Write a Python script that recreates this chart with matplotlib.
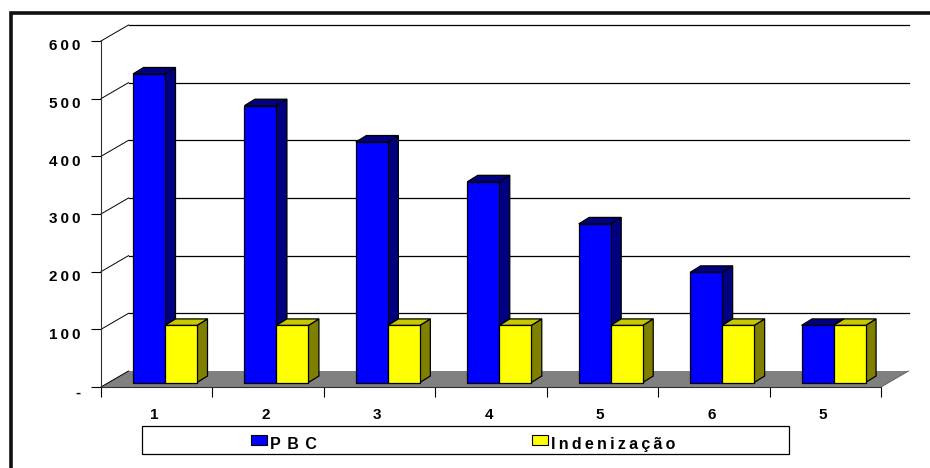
import matplotlib
matplotlib.use("Agg")
import matplotlib.pyplot as plt
from matplotlib.patches import Rectangle, Patch
from matplotlib.lines import Line2D
from matplotlib.transforms import ScaledTranslation

categories = ["1", "2", "3", "4", "5", "6", "5"]
pbc = [535, 480, 417, 348, 275, 191, 99]
indenizacao = [99, 99, 99, 99, 99, 99, 99]
y_ticks = [0, 100, 200, 300, 400, 500, 600]
y_labels = ["-", "100", "200", "300", "400", "500", "600"]
series_names = ["PBC", "Indenização"]

W, H = 930, 468
L, R, T, B = 101, 881, 41, 387
THIN = "\u2009"

def spaced(s, sep=THIN):
    return sep.join(s)

plt.rcParams["font.family"] = ["Liberation Sans", "DejaVu Sans"]
plt.rcParams["font.weight"] = "bold"
fig = plt.figure(figsize=(W / 100, H / 100), dpi=100, facecolor="white")
ax = fig.add_axes([L / W, 1 - B / H, (R - L) / W, (B - T) / H], facecolor="none")
ax.set_xlim(0, len(categories))
ax.set_ylim(0, 600)
px = len(categories) / (R - L)
py = 600 / (B - T)

# 3-D wall depth
dx_w, dy_w = 27.5 * px, 16 * py
n = len(categories)

# outer frame
fig.add_artist(Line2D([10.5 / W, 10.5 / W, 1], [0, 1 - 13 / H, 1 - 13 / H],
                      color="#101010", lw=2.6, solid_joinstyle="miter"))

# floor
ax.fill([0, n, n + dx_w, dx_w], [0, 0, dy_w, dy_w], color="#808080", lw=0, clip_on=False, zorder=1)
ax.plot([n, n + dx_w], [0, dy_w], color="#606060", lw=0.7, clip_on=False, zorder=1)

# wall gridlines
for v in y_ticks[1:]:
    ax.plot([dx_w, n + dx_w], [v + dy_w, v + dy_w], color="black", lw=0.9,
            clip_on=False, zorder=1)
for v in y_ticks[1:]:
    ax.plot([0, dx_w], [v, v + dy_w], color="black", lw=0.7, clip_on=False, zorder=1)
ax.plot([0, dx_w], [0, dy_w], color="black", lw=0.7, clip_on=False, zorder=1)

# bars
bw = 32 * px
off = 32 * px
base = 4.5 * py
ddx, ddy = 10.5 * px, 6.5 * py

def bar3d(x, val, face, top, side, z):
    y0, y1 = base, base + val
    ec = dict(edgecolor="black", linewidth=0.9, clip_on=False, zorder=z, joinstyle="miter")
    ax.fill([x + bw, x + bw + ddx, x + bw + ddx, x + bw],
            [y0, y0 + ddy, y1 + ddy, y1], facecolor=side, **ec)
    ax.fill([x, x + ddx, x + bw + ddx, x + bw],
            [y1, y1 + ddy, y1 + ddy, y1], facecolor=top, **ec)
    ax.bar(x, y1 - y0, bw, bottom=y0, align="edge", facecolor=face, edgecolor="black",
           linewidth=0.9, clip_on=False, zorder=z)

for i in range(n):
    x = i + off
    bar3d(x, pbc[i], "#0000FF", "#000080", "#000080", 3 + i * 0.01)
    bar3d(x + bw, indenizacao[i], "#FFFF00", "#C8C800", "#808000", 4 + i * 0.01)

# axes
for s in ["top", "right"]:
    ax.spines[s].set_visible(False)
for s in ["left", "bottom"]:
    ax.spines[s].set_linewidth(0.8)
    ax.spines[s].set_color("#303030")
    ax.spines[s].set_zorder(2)
ax.set_yticks(y_ticks)
ax.set_yticklabels([spaced(t) for t in y_labels], fontsize=11, fontweight="bold")
ax.tick_params(axis="y", length=7, width=0.8, pad=8)
shift = ScaledTranslation(0, 1.5 / 100, fig.dpi_scale_trans)
for lab in ax.get_yticklabels():
    lab.set_verticalalignment("top")
    lab.set_transform(lab.get_transform() + shift)
ax.set_xticks(range(n + 1))
ax.set_xticklabels([])
ax.tick_params(axis="x", which="major", length=7, width=0.8)
ax.set_xticks([i + 0.5 - 2.5 * px for i in range(n)], minor=True)
ax.set_xticklabels(categories, minor=True, fontsize=11, fontweight="bold")
ax.tick_params(axis="x", which="minor", length=0, pad=15)

# legend box and legend
fig.add_artist(Rectangle((142 / W, 1 - 454 / H), (789 - 142) / W, 28 / H, transform=fig.transFigure,
                         facecolor="white", edgecolor="black", linewidth=0.9))
handles = [Patch(facecolor="#0000FF", edgecolor="black", linewidth=0.8),
           Patch(facecolor="#FFFF00", edgecolor="black", linewidth=0.8)]
leg = fig.legend(handles, [spaced(series_names[0], THIN * 2), spaced(series_names[1])], ncol=2,
                 frameon=False, loc="center left", bbox_to_anchor=(251 / W, 1 - 441 / H),
                 borderpad=0, borderaxespad=0, handlelength=1.0, handleheight=0.62,
                 handletextpad=0.2, columnspacing=13.45, prop={"size": 11.5, "weight": "bold"})
for t in leg.get_texts():
    t.set_position((0, -3.5))

fig.savefig("out.png", dpi=100)
